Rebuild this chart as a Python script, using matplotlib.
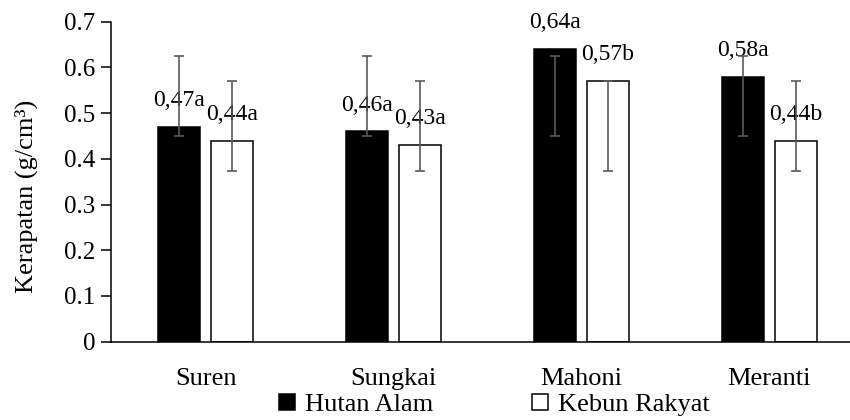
import numpy as np
import matplotlib.pyplot as plt
from matplotlib.patches import Patch

plt.rcParams['font.family'] = ['Liberation Serif', 'DejaVu Serif']

jenis = ['Suren', 'Sungkai', 'Mahoni', 'Meranti']
seri = ['Hutan Alam', 'Kebun Rakyat']
hutan_alam = [0.47, 0.46, 0.64, 0.58]
kebun_rakyat = [0.44, 0.43, 0.57, 0.44]
notasi_ha = ['a', 'a', 'a', 'a']
notasi_kr = ['a', 'a', 'b', 'b']
# error bar ranges (low, high) as given in the source sheet
err_ha_low = [0.45, 0.45, 0.45, 0.45]
err_ha_high = [0.625, 0.625, 0.625, 0.625]
err_kr_low = [0.374, 0.374, 0.374, 0.374]
err_kr_high = [0.571, 0.571, 0.571, 0.571]
yticks = [0, 0.1, 0.2, 0.3, 0.4, 0.5, 0.6, 0.7]

fig = plt.figure(figsize=(8.5, 4.2), dpi=100)
ax = fig.add_axes([0.1306, 0.1864, 0.8694, 0.7619])

x = np.arange(len(jenis))
w = 0.224
off = 0.141

def draw_series(xs, vals, lo, hi, notasi, face):
    vals = np.array(vals)
    ax.bar(xs, vals, w, color=face, edgecolor='black', linewidth=1.1, zorder=2)
    lo = np.array(lo)
    hi = np.array(hi)
    # the ranges are not centred on the bar, so draw them from their midpoint
    ax.errorbar(xs, (lo + hi) / 2, yerr=(hi - lo) / 2, fmt='none', ecolor='#5a5a5a',
                elinewidth=1.2, capsize=3.6, capthick=1.2, zorder=4)
    for xi, v, n in zip(xs, vals, notasi):
        lab = ('%.2f' % v).replace('.', ',') + n
        ax.annotate(lab, (xi, v), xytext=(0, 15), textcoords='offset points',
                    ha='center', va='baseline', fontsize=17, zorder=3,
                    annotation_clip=False)

draw_series(x - off, hutan_alam, err_ha_low, err_ha_high, notasi_ha, 'black')
draw_series(x + off, kebun_rakyat, err_kr_low, err_kr_high, notasi_kr, 'white')

ax.set_xlim(-0.505, 3.43)
ax.set_ylim(0, 0.7)
ax.set_yticks(yticks)
ax.set_yticklabels([('%g' % t) for t in yticks], fontsize=18)
ax.set_xticks(x)
ax.set_xticklabels(jenis, fontsize=19)
ax.tick_params(axis='x', length=0, pad=19)
ax.tick_params(axis='y', length=7, width=1.1, direction='out', pad=4)
for s in ['top', 'right']:
    ax.spines[s].set_visible(False)
for s in ['left', 'bottom']:
    ax.spines[s].set_linewidth(1.1)

ax.set_ylabel('Kerapatan (g/cm³)', fontsize=19)
ax.yaxis.set_label_coords(-0.099, 0.455)

handles = [Patch(facecolor='black', edgecolor='black', linewidth=1.1),
           Patch(facecolor='white', edgecolor='black', linewidth=1.1)]
fig.legend(handles, seri, loc='center', bbox_to_anchor=(0.582, 0.036),
           ncol=2, frameon=False, prop={'family': 'Liberation Serif', 'size': 19},
           handlelength=0.6, handleheight=0.6, handletextpad=0.38,
           columnspacing=3.75, borderpad=0, borderaxespad=0)

fig.savefig('out.png', dpi=100)
